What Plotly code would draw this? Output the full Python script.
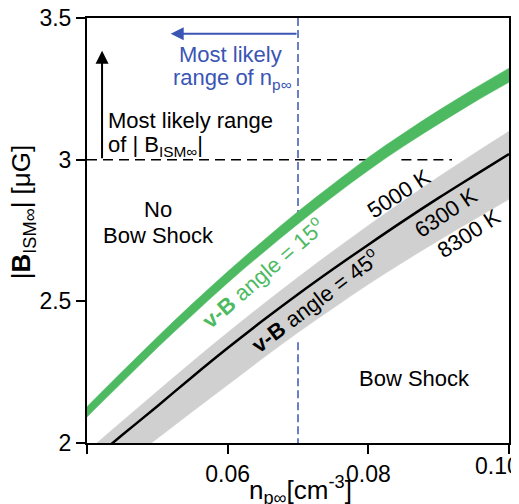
import plotly.graph_objects as go

# density n_p (cm^-3) sample points
n_vals = [0.040, 0.045, 0.050, 0.055, 0.060, 0.065, 0.070, 0.075, 0.080, 0.085, 0.090, 0.095, 0.100]
# v-B angle = 15 deg (green band edges)
green_lo = [2.092, 2.214, 2.336, 2.452, 2.565, 2.671, 2.773, 2.870, 2.962, 3.047, 3.126, 3.202, 3.273]
green_hi = [2.128, 2.252, 2.374, 2.492, 2.605, 2.713, 2.817, 2.914, 3.008, 3.093, 3.174, 3.250, 3.323]
# v-B angle = 45 deg: 5000 K (upper edge), 6300 K (line), 8300 K (lower edge)
gray_5000 = [1.970, 2.077, 2.183, 2.288, 2.390, 2.489, 2.585, 2.678, 2.768, 2.855, 2.940, 3.021, 3.100]
black_6300 = [1.925, 2.028, 2.130, 2.234, 2.335, 2.432, 2.525, 2.614, 2.700, 2.784, 2.865, 2.943, 3.020]
gray_8300 = [1.830, 1.923, 2.016, 2.111, 2.205, 2.299, 2.390, 2.476, 2.560, 2.639, 2.715, 2.788, 2.860]

x_ticks = [0.04, 0.06, 0.08, 0.10]
x_ticktext = ["", "0.06", "0.08", ""]
x_last_label = "0.10"
y_ticks = [2.0, 2.5, 3.0, 3.5]
y_ticktext = ["2", "2.5", "3", "3.5"]

n_likely = 0.07
b_likely = 3.0

FONT = "Liberation Sans, Arial, sans-serif"
GREEN = "#4dba62"
BLUE = "#3a55b4"
GRAY = "#d0d0d0"

fig = go.Figure()

# horizontal dashed line at |B| = 3
fig.add_trace(go.Scatter(x=[0.040, 0.0801], y=[b_likely, b_likely], mode="lines",
                         line=dict(color="black", width=1.5, dash="10px,6px"), hoverinfo="skip"))
fig.add_trace(go.Scatter(x=[0.0847, 0.0919], y=[b_likely, b_likely], mode="lines",
                         line=dict(color="black", width=1.5, dash="10px,6px"), hoverinfo="skip"))
# vertical blue dashed line at n = 0.07
fig.add_trace(go.Scatter(x=[n_likely, n_likely], y=[3.5, 2.81], mode="lines",
                         line=dict(color=BLUE, width=1.5, dash="8px,4px"), hoverinfo="skip"))
fig.add_trace(go.Scatter(x=[n_likely, n_likely], y=[2.356, 2.0], mode="lines",
                         line=dict(color=BLUE, width=1.5, dash="8px,4px"), hoverinfo="skip"))

# gray band (8300 K lower edge, 5000 K upper edge)
fig.add_trace(go.Scatter(x=n_vals, y=gray_8300, mode="lines",
                         line=dict(color=GRAY, width=0.5, shape="spline"), hoverinfo="skip"))
fig.add_trace(go.Scatter(x=n_vals, y=gray_5000, mode="lines", fill="tonexty", fillcolor=GRAY,
                         line=dict(color=GRAY, width=0.5, shape="spline"), hoverinfo="skip"))
# black line (6300 K)
fig.add_trace(go.Scatter(x=n_vals, y=black_6300, mode="lines",
                         line=dict(color="black", width=2.5, shape="spline"), hoverinfo="skip"))
# green band
fig.add_trace(go.Scatter(x=n_vals, y=green_lo, mode="lines",
                         line=dict(color=GREEN, width=0.5, shape="spline"), hoverinfo="skip"))
fig.add_trace(go.Scatter(x=n_vals, y=green_hi, mode="lines", fill="tonexty", fillcolor=GREEN,
                         line=dict(color=GREEN, width=0.5, shape="spline"), hoverinfo="skip"))

ann = []
def txt(x, y, text, size=22, color="black", angle=0, xanchor="center", xref="x", yref="y"):
    ann.append(dict(x=x, y=y, xref=xref, yref=yref, text=text, showarrow=False,
                    font=dict(family=FONT, size=size, color=color), textangle=angle,
                    xanchor=xanchor, yanchor="middle"))

txt(0.0604, 3.370, "Most likely", color=BLUE)
txt(0.0607, 3.285, "range of n<sub>p∞</sub>", color=BLUE)
txt(0.0427, 3.137, "Most likely range", xanchor="left")
txt(0.0427, 3.050, "of | B<sub>ISM∞</sub>|", xanchor="left")
txt(0.0501, 2.824, "No")
txt(0.0501, 2.732, "Bow Shock")
txt(0.0866, 2.229, "Bow Shock")
txt(0.0844, 2.880, "5000 K", angle=-33)
txt(0.0911, 2.813, "6300 K", angle=-34)
txt(0.0943, 2.739, "8300 K", angle=-33)
txt(0.0650, 2.602, "<b>v-B</b> angle = 15<sup>o</sup>", color=GREEN, angle=-41)
txt(0.0724, 2.505, "<b>v-B</b> angle = 45<sup>o</sup>", angle=-37)
# last x tick label (shifted to stay inside the figure, as in the original)
txt(0.9716, -0.054, x_last_label, size=23, xref="paper", yref="paper")
# axis titles
txt(-0.152, 0.545, "|<b>B</b><sub>ISM∞</sub>| [μG]", size=26, angle=-90, xref="paper", yref="paper")
txt(0.505, -0.111, "n<sub>p∞</sub>[cm<sup>-3</sup>]", size=26, xref="paper", yref="paper")

# arrows
ann.append(dict(x=0.0519, y=3.444, ax=n_likely, ay=3.444, xref="x", yref="y", axref="x", ayref="y",
                showarrow=True, arrowhead=2, arrowsize=1.3, arrowwidth=2, arrowcolor=BLUE, text=""))
ann.append(dict(x=0.04214, y=3.384, ax=0.04214, ay=3.0, xref="x", yref="y", axref="x", ayref="y",
                showarrow=True, arrowhead=2, arrowsize=1.3, arrowwidth=2, arrowcolor="black", text=""))

fig.update_layout(
    width=519, height=504,
    margin=dict(l=79, r=18, t=10, b=69),
    paper_bgcolor="white", plot_bgcolor="white",
    showlegend=False,
    font=dict(family=FONT, size=22, color="black"),
    annotations=ann,
    xaxis=dict(range=[0.04, 0.10], showline=True, mirror=True, linecolor="black", linewidth=2,
               ticks="outside", ticklen=9, tickwidth=2, tickcolor="black",
               tickvals=x_ticks, ticktext=x_ticktext, tickfont=dict(size=23, family=FONT),
               ticklabeloverflow="allow",
               showgrid=False, zeroline=False, automargin=False),
    yaxis=dict(range=[2.0, 3.5], showline=True, mirror=True, linecolor="black", linewidth=2,
               ticks="outside", ticklen=9, tickwidth=2, tickcolor="black",
               tickvals=y_ticks, ticktext=y_ticktext, tickfont=dict(size=23, family=FONT),
               ticklabeloverflow="allow",
               showgrid=False, zeroline=False, automargin=False),
)

fig.write_html("out.html")
